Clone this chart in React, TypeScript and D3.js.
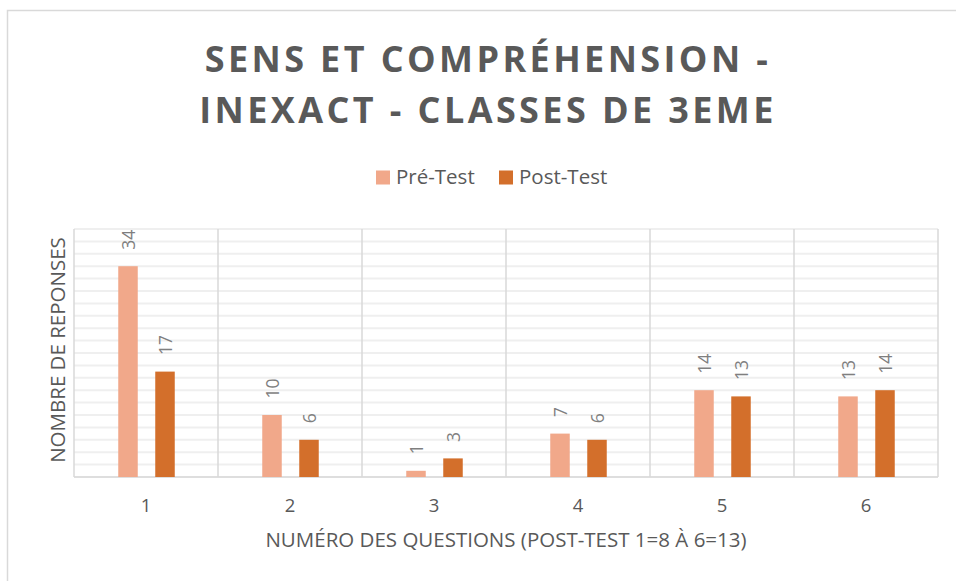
import React from "react";
import * as d3 from "d3";

const categories = ["1", "2", "3", "4", "5", "6"];
const seriesNames = ["Pré-Test", "Post-Test"];
const preTest = [34, 10, 1, 7, 14, 13];
const postTest = [17, 6, 3, 6, 13, 14];
const titleLines = ["SENS ET COMPRÉHENSION -", "INEXACT - CLASSES DE 3EME"];
const xTitle = "NUMÉRO DES QUESTIONS (POST-TEST 1=8 À 6=13)";
const yTitle = "NOMBRE DE REPONSES";
const colors = ["#F1A88A", "#D36F2B"];

export default function App() {
  const W = 956, H = 581;
  const left = 74, right = 938, top = 229, bottom = 477;
  const x = d3.scaleBand<string>().domain(categories).range([left, right]);
  const y = d3.scaleLinear().domain([0, 40]).range([bottom, top]);
  const gridVals = d3.range(0, 41, 2);
  const bw = 19.5;
  const offsets = [-18, 19];
  const font = "'Open Sans', sans-serif";
  const series = [preTest, postTest];
  return (
    <svg width={W} height={H} style={{ position: "absolute", left: 0, top: 0, background: "#fff" }}>
      <rect x={7.5} y={10.5} width={W + 10} height={H + 10} fill="#fff" stroke="#d9d9d9" strokeWidth={1.5} />
      {titleLines.map((t, i) => (
        <text key={i} x={488} y={72 + i * 51} textAnchor="middle" fontFamily={font} fontWeight="bold"
          fontSize={36} letterSpacing={3.4} fill="#595959">{t}</text>
      ))}
      {seriesNames.map((s, i) => {
        const lx = [376, 499][i];
        return (
          <g key={s}>
            <rect x={lx} y={170.5} width={14} height={14} fill={colors[i]} />
            <text x={lx + 20} y={184} fontFamily={font} fontSize={20.5} fill="#595959">{s}</text>
          </g>
        );
      })}
      {gridVals.map((v) => (
        <line key={v} x1={left} x2={right} y1={y(v)} y2={y(v)} stroke="#efefef" strokeWidth={2} />
      ))}
      {categories.map((c) => (
        <line key={c} x1={x(c)!} x2={x(c)!} y1={top} y2={bottom} stroke="#d9d9d9" strokeWidth={1.5} />
      ))}
      <line x1={right} x2={right} y1={top} y2={bottom} stroke="#d9d9d9" strokeWidth={1.5} />
      <line x1={left} x2={right} y1={bottom} y2={bottom} stroke="#d9d9d9" strokeWidth={1.5} />
      {series.map((vals, si) =>
        vals.map((v, ci) => {
          const cx = x(categories[ci])! + x.bandwidth() / 2 + offsets[si];
          return (
            <g key={`${si}-${ci}`}>
              <rect x={cx - bw / 2} y={y(v)} width={bw} height={bottom - y(v)} fill={colors[si]} />
              <text transform={`translate(${cx + 6.5},${y(v) - 16.5}) rotate(-90)`} fontFamily={font}
                fontSize={17.5} fill="#7f7f7f">{v}</text>
            </g>
          );
        })
      )}
      {categories.map((c) => (
        <text key={c} x={x(c)! + x.bandwidth() / 2} y={512} textAnchor="middle" fontFamily={font}
          fontSize={18.5} fill="#595959">{c}</text>
      ))}
      <text x={506} y={547} textAnchor="middle" fontFamily={font} fontSize={20.5} fill="#595959">{xTitle}</text>
      <text transform={`translate(65,350) rotate(-90)`} textAnchor="middle" fontFamily={font} fontSize={20.5}
        fill="#595959">{yTitle}</text>
    </svg>
  );
}
